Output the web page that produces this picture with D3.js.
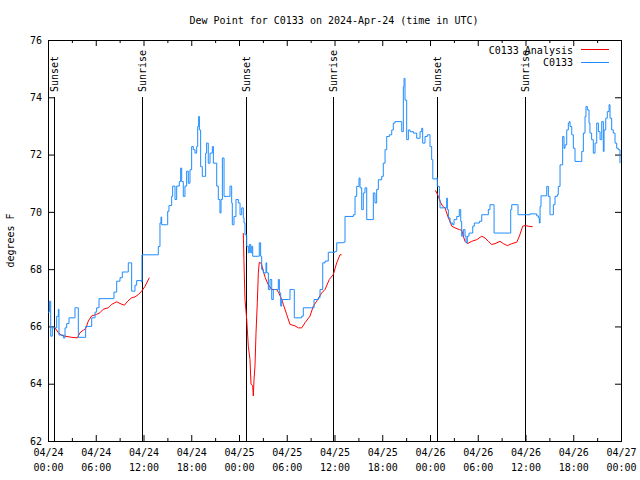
<!DOCTYPE html>
<html><head><meta charset="utf-8">
<script src="https://cdn.jsdelivr.net/npm/d3@7"></script>
<style>body{margin:0;background:#fff}svg{display:block}</style>
</head><body>
<svg id="c" width="640" height="480"></svg>
<script>
// ---------- data ----------
const chartTitle = "Dew Point for C0133 on 2024-Apr-24 (time in UTC)";
const yAxisLabel = "degrees F";
const startUTC = Date.UTC(2024, 3, 24, 0, 0);   // 04/24 00:00 UTC
const spanHours = 72;
const yDomain = [62, 76];
const yTicks = [62, 64, 66, 68, 70, 72, 74, 76];
const xMajorHours = [0, 6, 12, 18, 24, 30, 36, 42, 48, 54, 60, 66, 72];
const xMinorHours = [3, 9, 15, 21, 27, 33, 39, 45, 51, 57, 63, 69];
const sunHours = [0.79, 11.85, 24.88, 35.85, 48.88, 59.95];
const sunLabels = ["Sunset", "Sunrise", "Sunset", "Sunrise", "Sunset", "Sunrise"];
const seriesNames = ["C0133 Analysis", "C0133"];

// observed (hours since start, degrees F)
const obsHours = [0.00,0.17,0.34,0.54,0.88,1.09,1.30,1.38,1.93,2.14,2.35,2.64,3.31,3.39,3.69,3.81,4.65,4.73,5.40,5.49,5.91,6.11,6.41,8.21,8.29,8.63,9.05,9.34,9.89,10.09,10.39,10.51,10.72,10.93,11.14,11.77,11.81,13.66,13.86,14.07,14.20,14.28,14.91,15.04,15.20,15.54,15.66,15.96,16.17,16.50,16.67,16.80,17.00,17.21,17.42,17.63,17.84,18.05,18.26,18.47,18.68,18.81,18.93,19.02,19.18,19.39,19.65,19.81,19.93,20.14,20.36,20.65,20.78,21.20,21.40,21.61,21.74,21.91,22.12,22.66,22.87,23.08,23.16,23.37,23.62,23.92,24.13,24.34,24.54,24.63,24.75,24.97,25.17,25.30,25.47,25.60,25.72,26.43,26.55,26.72,26.85,27.06,27.39,27.48,27.69,27.90,28.11,28.31,28.73,28.94,29.07,29.24,29.37,30.20,30.41,30.83,30.95,31.88,32.08,33.13,33.43,33.97,34.18,34.52,34.81,35.22,36.06,36.28,37.11,37.32,38.37,38.58,38.79,39.08,39.21,39.42,39.62,39.83,40.05,40.67,40.88,41.09,41.30,41.51,41.93,42.13,42.35,42.56,42.89,43.19,43.39,43.60,44.23,44.45,44.65,44.74,44.86,45.07,45.28,45.49,45.91,46.33,46.75,46.96,47.08,47.37,47.66,48.00,48.21,48.35,48.84,48.92,49.18,49.26,49.89,50.10,50.18,50.31,50.52,50.85,51.02,51.36,51.68,51.86,51.98,52.19,52.40,52.53,52.69,52.90,53.12,53.37,53.57,54.20,54.50,55.13,55.33,55.54,55.96,56.05,57.97,58.14,58.27,58.97,59.06,59.94,60.57,61.41,61.62,61.74,61.83,61.95,62.45,62.67,62.87,63.08,63.29,63.50,63.71,64.00,64.12,64.34,64.67,64.84,64.97,65.18,65.38,65.50,65.60,65.81,66.01,66.22,66.77,67.07,67.27,67.48,67.60,67.77,67.98,68.10,68.31,68.52,68.74,68.95,69.16,69.37,69.58,69.78,69.87,70.08,70.28,70.50,70.62,70.83,71.03,71.25,71.46,71.66,71.87];
const obsValues = [66.5,66.88,65.66,65.95,65.95,66.35,66.6,65.7,65.6,65.95,66.1,66.3,66.3,66.65,66.65,65.62,65.62,66.0,66.0,66.3,66.5,66.65,66.97,66.97,67.2,67.58,67.7,67.9,67.9,68.22,68.22,67.23,67.23,67.44,67.6,67.55,68.5,68.5,68.79,69.61,69.82,69.55,69.55,70.02,70.22,70.54,70.9,70.43,70.9,71.06,71.53,71.06,70.54,70.9,71.42,71.0,71.47,72.28,72.17,72.05,72.28,72.98,73.33,72.86,71.58,71.24,71.24,72.05,72.4,71.7,72.05,72.28,71.7,70.9,70.43,69.96,70.43,71.88,70.54,70.54,70.9,70.31,69.55,69.84,70.43,70.31,69.9,70.14,69.79,69.61,69.2,68.8,68.57,68.86,68.57,68.8,68.45,68.45,68.92,68.45,67.99,67.87,68.22,67.87,67.29,67.64,66.94,67.29,67.29,67.64,67.17,66.71,66.94,66.94,67.29,67.29,66.3,66.36,66.65,66.65,66.94,67.0,67.29,68.22,68.28,68.59,68.62,68.92,68.94,69.84,69.9,70.54,70.89,71.18,70.84,70.08,70.66,70.84,69.73,69.73,70.66,70.31,70.78,71.12,71.24,71.7,72.17,72.63,72.69,72.86,73.1,73.15,73.15,72.8,74.37,74.66,73.9,72.52,72.86,72.8,72.75,72.57,72.8,72.92,72.4,72.63,72.69,72.28,71.82,71.15,71.18,70.89,70.43,70.14,70.14,70.48,70.08,69.79,69.61,69.55,69.73,69.84,70.08,69.67,69.15,69.38,69.15,68.92,69.15,69.26,69.26,69.5,69.61,69.67,69.9,69.9,70.08,70.25,70.25,69.26,69.26,70.08,70.25,70.25,69.9,69.9,69.93,69.86,69.79,69.61,70.19,70.56,70.56,70.89,70.54,69.9,69.9,70.25,70.54,70.6,70.89,71.64,72.63,72.22,72.34,72.86,73.1,73.15,72.98,72.69,72.22,71.76,71.76,72.11,72.75,73.33,73.68,73.56,73.1,72.75,72.52,72.05,72.4,73.1,72.8,72.52,73.15,72.11,72.86,73.27,73.5,73.74,73.27,72.86,72.75,72.4,72.22,72.17,71.7];

// analysis (null = gap)
const anaHours = [0.88,1.30,1.72,2.14,2.97,3.69,4.02,4.44,4.73,5.07,5.49,6.11,6.53,6.95,7.58,8.00,8.63,9.05,9.60,10.01,10.51,10.93,11.35,11.77,12.19,12.73,
  18.0,
  24.54,24.62,24.75,24.97,25.17,25.38,25.51,25.72,25.80,25.89,26.01,26.14,26.30,26.43,26.55,26.80,27.05,27.30,27.69,28.11,28.73,29.00,29.37,29.57,29.99,30.41,31.04,31.46,31.88,32.30,32.92,33.34,33.76,34.39,34.81,35.35,35.85,36.28,36.69,36.90,
  42.0,
  48.63,48.75,49.05,49.26,49.60,49.89,50.10,50.31,50.60,50.73,51.14,51.68,51.98,52.19,52.40,52.69,53.24,53.87,54.50,54.91,55.33,55.75,56.17,56.80,57.22,57.72,58.27,58.90,59.23,59.65,59.94,60.36,60.90];
const anaValues = [65.95,65.78,65.69,65.66,65.62,65.6,65.78,65.87,65.92,66.19,66.37,66.42,66.48,66.6,66.65,66.77,66.86,66.8,66.74,66.88,67.0,67.03,67.11,67.23,67.4,67.7,
  null,
  69.26,68.3,66.94,66.24,65.31,64.85,63.98,63.93,63.57,64.15,64.62,65.78,66.83,67.87,68.24,68.2,67.93,67.7,67.45,67.29,67.29,67.17,66.94,66.77,66.42,66.07,66.02,65.95,65.95,66.13,66.36,66.71,66.88,67.17,67.29,67.64,67.81,68.22,68.5,68.5,
  null,
  70.74,70.72,70.54,70.37,70.19,70.14,69.96,69.79,69.61,69.5,69.44,69.38,69.36,69.15,68.97,68.89,68.97,69.03,69.15,69.09,68.97,68.86,68.89,68.97,68.89,68.82,68.89,68.94,69.15,69.5,69.52,69.5,69.48];

// ---------- drawing ----------
const FONT = "'DejaVu Sans Mono', monospace";
const L = 48, R = 621, T = 40, B = 441;
const toDate = h => new Date(startUTC + h * 3600e3);
const svg = d3.select("#c");
const x = d3.scaleUtc().domain([toDate(0), toDate(spanHours)]).range([L, R]);
const y = d3.scaleLinear().domain(yDomain).range([B, T]);
const fmtD = d3.utcFormat("%m/%d"), fmtT = d3.utcFormat("%H:%M");

function styleAxis(g) {
  g.select(".domain").remove();
  g.attr("font-family", FONT).attr("font-size", 10);
  g.selectAll(".tick line").attr("stroke", "#000");
  g.selectAll(".tick text").attr("fill", "#000");
}

// bottom axis with two-line labels
const gx = svg.append("g").attr("transform", `translate(0,${B})`)
  .call(d3.axisBottom(x).tickValues(xMajorHours.map(toDate)).tickSizeInner(-6).tickSizeOuter(0).tickFormat(""));
styleAxis(gx);
gx.selectAll(".tick text").each(function(d) {
  const t = d3.select(this).attr("y", null).attr("dy", null);
  t.append("tspan").attr("x", 0).attr("y", 15).text(fmtD(d));
  t.append("tspan").attr("x", 0).attr("y", 30).text(fmtT(d));
});
svg.append("g").attr("transform", `translate(0,${B})`)
  .call(d3.axisBottom(x).tickValues(xMinorHours.map(toDate)).tickSizeInner(-3).tickSizeOuter(0).tickFormat(""))
  .call(styleAxis);
svg.append("g").attr("transform", `translate(0,${T})`)
  .call(d3.axisTop(x).tickValues(xMajorHours.map(toDate)).tickSizeInner(-6).tickSizeOuter(0).tickFormat(""))
  .call(styleAxis);
svg.append("g").attr("transform", `translate(0,${T})`)
  .call(d3.axisTop(x).tickValues(xMinorHours.map(toDate)).tickSizeInner(-3).tickSizeOuter(0).tickFormat(""))
  .call(styleAxis);

// y axes
svg.append("g").attr("transform", `translate(${L},0)`)
  .call(d3.axisLeft(y).tickValues(yTicks).tickSizeInner(-6).tickSizeOuter(0).tickPadding(6))
  .call(styleAxis);
svg.append("g").attr("transform", `translate(${R},0)`)
  .call(d3.axisRight(y).tickValues(yTicks).tickSizeInner(-6).tickSizeOuter(0).tickFormat(""))
  .call(styleAxis);

// frame
svg.append("rect").attr("x", L + 0.5).attr("y", T + 0.5).attr("width", R - L).attr("height", B - T)
  .attr("fill", "none").attr("stroke", "#000").attr("shape-rendering", "crispEdges");

// sunrise / sunset markers
sunHours.forEach((h, i) => {
  const sx = Math.round(x(toDate(h))) + 0.5;
  svg.append("line").attr("x1", sx).attr("x2", sx).attr("y1", 97).attr("y2", B)
    .attr("stroke", "#000").attr("shape-rendering", "crispEdges");
  svg.append("text").attr("transform", `translate(${sx + 3.5},92) rotate(-90)`)
    .attr("font-family", FONT).attr("font-size", 10).attr("fill", "#000")
    .text(sunLabels[i]);
});

// series
const anaData = anaHours.map((h, i) => ({ d: toDate(h), v: anaValues[i] }));
const obsData = obsHours.map((h, i) => ({ d: toDate(h), v: obsValues[i] }));
const anaLine = d3.line().defined(p => p.v != null).x(p => x(p.d)).y(p => y(p.v));
const obsLine = d3.line().curve(d3.curveStepAfter).x(p => x(p.d)).y(p => y(p.v));
const RED = "#ff0000", BLUE = "#1e8cff";
svg.append("path").datum(anaData).attr("d", anaLine).attr("fill", "none").attr("stroke", RED).attr("stroke-width", 1);
svg.append("path").datum(obsData).attr("d", obsLine).attr("fill", "none").attr("stroke", BLUE).attr("stroke-width", 1);

// legend
[[seriesNames[0], RED, 53.5, 49.5], [seriesNames[1], BLUE, 66, 62.5]].forEach(([name, col, ty, ly]) => {
  svg.append("text").attr("x", 573).attr("y", ty).attr("text-anchor", "end")
    .attr("font-family", FONT).attr("font-size", 10).attr("fill", "#000").text(name);
  svg.append("line").attr("x1", 581).attr("x2", 609).attr("y1", ly).attr("y2", ly)
    .attr("stroke", col).attr("shape-rendering", "crispEdges");
});

// title and y label
svg.append("text").attr("x", 334).attr("y", 24).attr("text-anchor", "middle")
  .attr("font-family", FONT).attr("font-size", 10).attr("fill", "#000").text(chartTitle);
svg.append("text").attr("transform", `translate(14,${(T + B) / 2}) rotate(-90)`).attr("text-anchor", "middle")
  .attr("font-family", FONT).attr("font-size", 10).attr("fill", "#000").text(yAxisLabel);
</script>
</body></html>
